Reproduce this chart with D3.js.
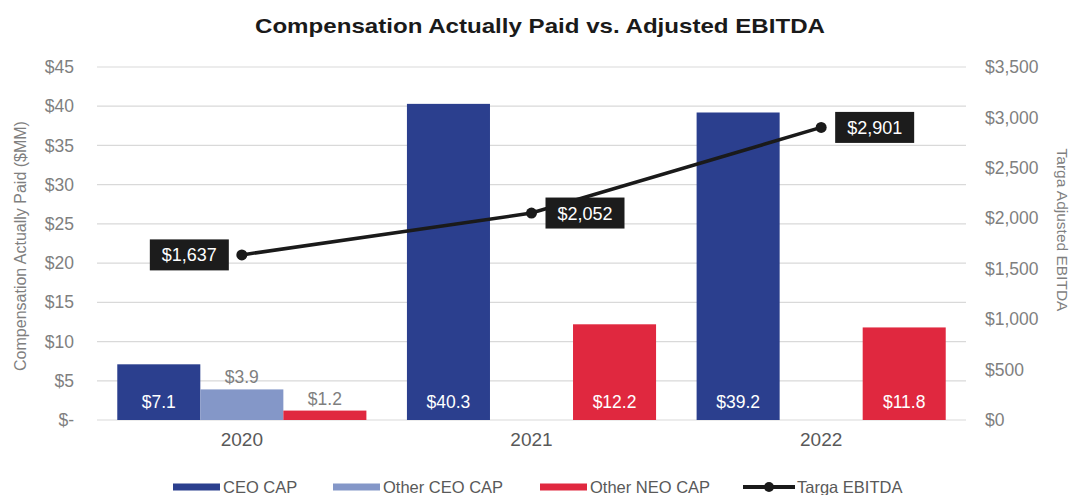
<!DOCTYPE html>
<html>
<head>
<meta charset="utf-8">
<script src="https://cdn.jsdelivr.net/npm/d3@7"></script>
<style>
  body { margin: 0; background: #fff; }
  svg { font-family: "Liberation Sans", Arial, sans-serif; }
</style>
</head>
<body>
<svg id="canvas" width="1070" height="495"></svg>
<script>
const years = ["2020", "2021", "2022"]
const seriesNames = ["CEO CAP", "Other CEO CAP", "Other NEO CAP"]
const ceoCap = [7.1, 40.3, 39.2]
const otherCeoCap = [3.9, null, null]
const otherNeoCap = [1.2, 12.2, 11.8]
const ebitda = [1637, 2052, 2901]
const ebitdaLabelSide = ["left", "right", "right"]
const leftTicks = [0, 5, 10, 15, 20, 25, 30, 35, 40, 45]
const rightTicks = [0, 500, 1000, 1500, 2000, 2500, 3000, 3500]

const colors = {
  "CEO CAP": "#2b3f8e",
  "Other CEO CAP": "#8497c8",
  "Other NEO CAP": "#e0283f"
}

const canvas = d3.select("#canvas")

const plotLeft = 97, plotRight = 966, plotTop = 67, plotBottom = 420

const x = d3.scaleBand().domain(years).range([plotLeft, plotRight]).paddingInner(0.14).paddingOuter(0.07)
const xInner = d3.scaleBand().domain(seriesNames).range([0, x.bandwidth()])
const yLeft = d3.scaleLinear().domain([0, 45]).range([plotBottom, plotTop])
const yRight = d3.scaleLinear().domain([0, 3500]).range([plotBottom, plotTop])

// title (source image is a bit wide, so stretch it to the same length)
canvas.append("text")
      .attr("x", 540).attr("y", 33)
      .attr("text-anchor", "middle")
      .attr("font-size", 21).attr("font-weight", "bold")
      .attr("fill", "#1a1a1a")
      .attr("textLength", 570).attr("lengthAdjust", "spacingAndGlyphs")
      .text("Compensation Actually Paid vs. Adjusted EBITDA")

// gridlines
canvas.append("g").selectAll("line")
      .data(leftTicks)
      .enter().append("line")
      .attr("x1", plotLeft).attr("x2", plotRight)
      .attr("y1", d => yLeft(d)).attr("y2", d => yLeft(d))
      .attr("stroke", "#d9d9d9").attr("stroke-width", 1.2)

// axes
const leftAxis = canvas.append("g")
      .attr("transform", "translate(" + plotLeft + ",0)")
      .call(d3.axisLeft(yLeft).tickValues(leftTicks).tickSize(0).tickPadding(23)
              .tickFormat(d => d === 0 ? "$-" : "$" + d))
const rightAxis = canvas.append("g")
      .attr("transform", "translate(" + plotRight + ",0)")
      .call(d3.axisRight(yRight).tickValues(rightTicks).tickSize(0).tickPadding(19)
              .tickFormat(d => "$" + d3.format(",")(d)))
const bottomAxis = canvas.append("g")
      .attr("transform", "translate(0," + plotBottom + ")")
      .call(d3.axisBottom(x).tickSize(0).tickPadding(13))

;[leftAxis, rightAxis, bottomAxis].forEach(a => {
  a.select(".domain").remove()
  a.selectAll("text").attr("font-family", "Liberation Sans, Arial, sans-serif").attr("fill", "#7f7f7f").attr("font-size", 17.5)
})
bottomAxis.selectAll("text").attr("font-size", 19).attr("fill", "#595959")

// axis titles
canvas.append("text")
      .attr("transform", "translate(26,246) rotate(-90)")
      .attr("text-anchor", "middle").attr("font-size", 16).attr("fill", "#7f7f7f")
      .text("Compensation Actually Paid ($MM)")
canvas.append("text")
      .attr("transform", "translate(1057,230) rotate(90)")
      .attr("text-anchor", "middle").attr("font-size", 15.5).attr("fill", "#7f7f7f")
      .text("Targa Adjusted EBITDA")

// bars
const barData = []
years.forEach((yr, i) => {
  barData.push({ year: yr, series: "CEO CAP", value: ceoCap[i] })
  barData.push({ year: yr, series: "Other CEO CAP", value: otherCeoCap[i] })
  barData.push({ year: yr, series: "Other NEO CAP", value: otherNeoCap[i] })
})
const bars = barData.filter(d => d.value != null)

canvas.append("g").selectAll("rect")
      .data(bars)
      .enter().append("rect")
      .attr("x", d => x(d.year) + xInner(d.series))
      .attr("y", d => yLeft(d.value))
      .attr("width", xInner.bandwidth())
      .attr("height", d => yLeft(0) - yLeft(d.value))
      .attr("fill", d => colors[d.series])

// bar labels: inside base when tall enough, above otherwise
canvas.append("g").selectAll("text")
      .data(bars)
      .enter().append("text")
      .attr("x", d => x(d.year) + xInner(d.series) + xInner.bandwidth() / 2)
      .attr("y", d => (yLeft(0) - yLeft(d.value)) > 40 ? yLeft(0) - 12 : yLeft(d.value) - 6)
      .attr("text-anchor", "middle")
      .attr("font-size", 17.5)
      .attr("fill", d => (yLeft(0) - yLeft(d.value)) > 40 ? "#ffffff" : "#7f7f7f")
      .text(d => "$" + d.value.toFixed(1))

// EBITDA line
const linePts = years.map((yr, i) => ({ year: yr, value: ebitda[i], side: ebitdaLabelSide[i] }))
const line = d3.line().x(d => x(d.year) + x.bandwidth() / 2).y(d => yRight(d.value))

canvas.append("path")
      .datum(linePts)
      .attr("d", line)
      .attr("fill", "none")
      .attr("stroke", "#1a1a1a")
      .attr("stroke-width", 3.5)

canvas.append("g").selectAll("circle")
      .data(linePts)
      .enter().append("circle")
      .attr("cx", d => x(d.year) + x.bandwidth() / 2)
      .attr("cy", d => yRight(d.value))
      .attr("r", 5.5)
      .attr("fill", "#1a1a1a")

const boxW = 79, boxH = 31
const lbl = canvas.append("g").selectAll("g")
      .data(linePts)
      .enter().append("g")
      .attr("transform", d => {
        const cx = x(d.year) + x.bandwidth() / 2
        const bx = d.side === "left" ? cx - 13 - boxW : cx + 14
        return "translate(" + bx + "," + (yRight(d.value) - boxH / 2) + ")"
      })
lbl.append("rect")
   .attr("width", boxW).attr("height", boxH)
   .attr("fill", "#1c1c1c")
lbl.append("text")
   .attr("x", boxW / 2).attr("y", boxH / 2 + 6.5)
   .attr("text-anchor", "middle")
   .attr("font-size", 18).attr("fill", "#ffffff")
   .text(d => "$" + d3.format(",")(d.value))

// legend
const legendItems = [
  { name: "CEO CAP", x: 173, type: "bar" },
  { name: "Other CEO CAP", x: 333, type: "bar" },
  { name: "Other NEO CAP", x: 540, type: "bar" },
  { name: "Targa EBITDA", x: 743, type: "line" }
]
const legend = canvas.append("g").attr("transform", "translate(0,487)")
const item = legend.selectAll("g")
      .data(legendItems)
      .enter().append("g")
      .attr("transform", d => "translate(" + d.x + ",0)")
item.filter(d => d.type === "bar").append("rect")
    .attr("x", 0).attr("y", -3.5).attr("width", 47).attr("height", 7)
    .attr("fill", d => colors[d.name])
item.filter(d => d.type === "line").append("line")
    .attr("x1", 0).attr("x2", 52).attr("y1", 0).attr("y2", 0)
    .attr("stroke", "#1a1a1a").attr("stroke-width", 4)
item.filter(d => d.type === "line").append("circle")
    .attr("cx", 26).attr("cy", 0).attr("r", 5).attr("fill", "#1a1a1a")
item.append("text")
    .attr("x", d => d.type === "line" ? 54 : 50)
    .attr("y", 5.5)
    .attr("font-size", 16.5).attr("fill", "#595959")
    .text(d => d.name)
</script>
</body>
</html>
